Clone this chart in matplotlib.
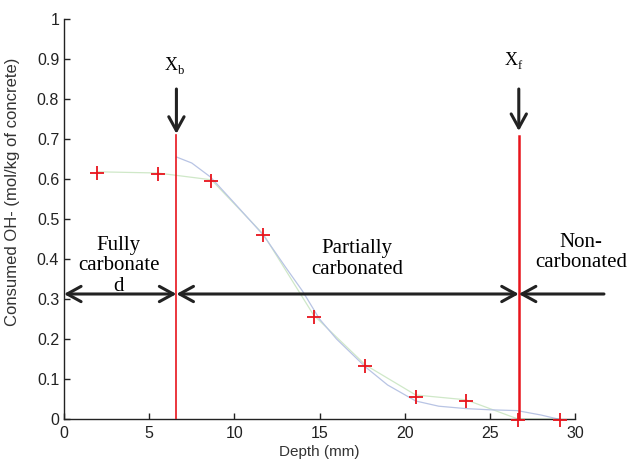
import matplotlib
matplotlib.use("Agg")
import matplotlib.pyplot as plt

# Data
depth = [1.95, 5.5, 8.65, 11.7, 14.65, 17.7, 20.65, 23.6, 26.65, 29.1]
oh = [0.615, 0.612, 0.595, 0.46, 0.255, 0.132, 0.055, 0.045, -0.002, -0.003]

fit_x = [1.95, 5.5, 8.65, 11.7, 14.65, 17.7, 20.65, 23.6, 26.65, 29.1]
fit_y = [0.618, 0.615, 0.598, 0.462, 0.26, 0.135, 0.06, 0.048, 0.0, 0.0]

model_x = [6.6, 7.5, 8.6, 10.0, 11.7, 13.0, 14.0, 15.0, 16.0, 17.7, 19.0, 20.65, 22.0, 23.6, 25.0, 26.6, 28.0, 29.0]
model_y = [0.655, 0.64, 0.605, 0.54, 0.46, 0.38, 0.32, 0.25, 0.2, 0.13, 0.085, 0.045, 0.032, 0.026, 0.023, 0.021, 0.01, 0.0]

xb = 6.6
xf = 26.7
arrow_y = 0.3125

xticks = [0, 5, 10, 15, 20, 25, 30]
yticks = [0, 0.1, 0.2, 0.3, 0.4, 0.5, 0.6, 0.7, 0.8, 0.9, 1.0]
ytick_labels = ["0", "0.1", "0.2", "0.3", "0.4", "0.5", "0.6", "0.7", "0.8", "0.9", "1"]

fig = plt.figure(figsize=(6.27, 4.61), dpi=100)
ax = fig.add_axes([64/627, 42/461, 511/627, 400/461])

ax.plot(fit_x, fit_y, color="#cfe8c8", lw=0.9, zorder=2)
ax.plot(model_x, model_y, color="#b8c4e4", lw=0.9, zorder=2)
ax.plot(depth, oh, linestyle="none", marker="+", color="#e8141c", ms=10, mew=1.3, zorder=4,
        clip_on=False)

# red vertical lines
ax.plot([xb, xb], [0, 0.71], color="#e8141c", lw=1.2, zorder=3)
ax.plot([xf, xf], [0, 0.707], color="#e8141c", lw=1.8, zorder=3)

akw = dict(arrowstyle="->,head_length=1.0,head_width=0.55", color="#222222", lw=2.2,
           shrinkA=0, shrinkB=0)
# down arrows
ax.annotate("", xy=(xb, 0.713), xytext=(xb, 0.825), arrowprops=akw, annotation_clip=False)
ax.annotate("", xy=(xf, 0.72), xytext=(xf, 0.825), arrowprops=akw, annotation_clip=False)

dkw = dict(arrowstyle="<->,head_length=1.0,head_width=0.55", color="#222222", lw=2.2,
           shrinkA=0, shrinkB=0)
ax.annotate("", xy=(0, arrow_y), xytext=(xb, arrow_y), arrowprops=dkw, annotation_clip=False)
ax.annotate("", xy=(xb, arrow_y), xytext=(xf, arrow_y), arrowprops=dkw, annotation_clip=False)
ax.annotate("", xy=(xf, arrow_y), xytext=(31.7, arrow_y), arrowprops=akw, annotation_clip=False)

serif = "Liberation Serif"
tkw = dict(textcoords="offset pixels", family=serif, va="baseline", annotation_clip=False)
ax.annotate("X", xy=(xb, 0.8725), xytext=(-5, 0), fontsize=13, ha="center", **tkw)
ax.annotate("b", xy=(xb, 0.8725), xytext=(2, -4), fontsize=9, ha="left", **tkw)
ax.annotate("X", xy=(xf, 0.885), xytext=(-8, 0), fontsize=13, ha="center", **tkw)
ax.annotate("f", xy=(xf, 0.885), xytext=(-1, -4), fontsize=9, ha="left", **tkw)

ax.text(3.2, 0.383, "Fully\ncarbonate\nd", family=serif, fontsize=15, ha="center", va="center",
        linespacing=1.12)
ax.text(17.2, 0.40, "Partially\ncarbonated", family=serif, fontsize=15, ha="center", va="center",
        linespacing=1.2)
ax.text(30.35, 0.417, "Non-\ncarbonated", family=serif, fontsize=15, ha="center", va="center",
        linespacing=1.05, clip_on=False)

ax.set_xlim(0, 30)
ax.set_ylim(0, 1)
ax.set_xticks(xticks)
ax.set_xticklabels([str(t) for t in xticks])
ax.set_yticks(yticks)
ax.set_yticklabels(ytick_labels)
for s in ["top", "right"]:
    ax.spines[s].set_visible(False)
for s in ["left", "bottom"]:
    ax.spines[s].set_linewidth(1.0)
    ax.spines[s].set_color("#222222")
ax.tick_params(direction="in", length=4, width=1.0, labelsize=11.5, colors="#222222")
ax.tick_params(axis="x", pad=5)
for lab in ax.get_xticklabels() + ax.get_yticklabels():
    lab.set_family("Liberation Sans")
ax.set_xlabel("Depth (mm)", family="Liberation Sans", fontsize=11, labelpad=3, color="#333333")
ax.set_ylabel("Consumed OH- (mol/kg of concrete)", family="Liberation Sans", fontsize=12,
              color="#333333")
ax.yaxis.set_label_coords(-0.086, 0.5675)

fig.savefig("out.png", dpi=100)
